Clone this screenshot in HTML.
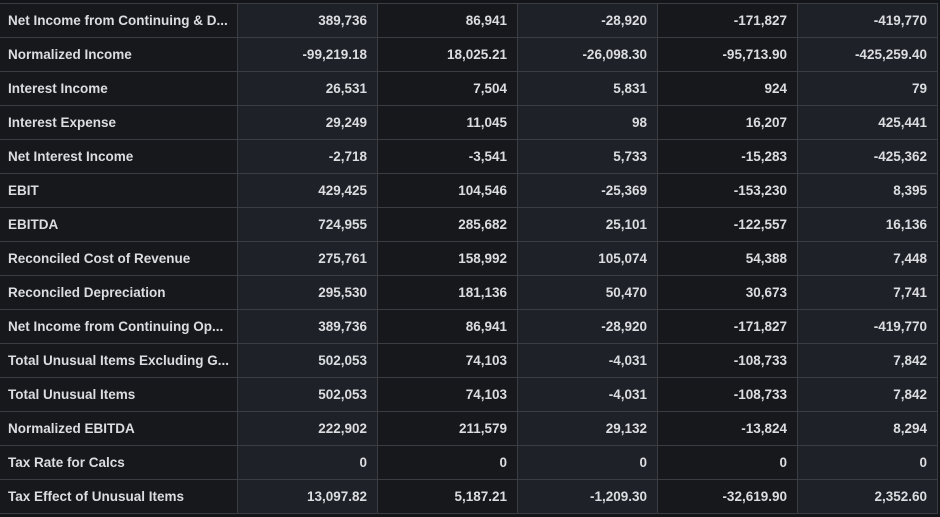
<!DOCTYPE html>
<html><head><style>
body{margin:0;background:#131518;width:940px;height:517px;overflow:hidden;font-family:"Liberation Sans",sans-serif;}
table{position:absolute;left:0;top:3px;border-collapse:collapse;table-layout:fixed;width:938px;}
td{height:33px;border:1px solid #3a3d43;padding:0 10px;font-size:13.5px;font-weight:bold;color:#dcdde0;white-space:nowrap;overflow:hidden;letter-spacing:0;}
td:first-child{border-left:none;text-align:left;padding-left:8px;background:#16181c;width:219px;}
td.a{background:#1e2128;text-align:right;}
td.b{background:#16181c;text-align:right;}
</style></head><body>
<table>
<tr><td>Net Income from Continuing &amp; D...</td><td class="a">389,736</td><td class="b">86,941</td><td class="a">-28,920</td><td class="b">-171,827</td><td class="a">-419,770</td></tr>
<tr><td>Normalized Income</td><td class="a">-99,219.18</td><td class="b">18,025.21</td><td class="a">-26,098.30</td><td class="b">-95,713.90</td><td class="a">-425,259.40</td></tr>
<tr><td>Interest Income</td><td class="a">26,531</td><td class="b">7,504</td><td class="a">5,831</td><td class="b">924</td><td class="a">79</td></tr>
<tr><td>Interest Expense</td><td class="a">29,249</td><td class="b">11,045</td><td class="a">98</td><td class="b">16,207</td><td class="a">425,441</td></tr>
<tr><td>Net Interest Income</td><td class="a">-2,718</td><td class="b">-3,541</td><td class="a">5,733</td><td class="b">-15,283</td><td class="a">-425,362</td></tr>
<tr><td>EBIT</td><td class="a">429,425</td><td class="b">104,546</td><td class="a">-25,369</td><td class="b">-153,230</td><td class="a">8,395</td></tr>
<tr><td>EBITDA</td><td class="a">724,955</td><td class="b">285,682</td><td class="a">25,101</td><td class="b">-122,557</td><td class="a">16,136</td></tr>
<tr><td>Reconciled Cost of Revenue</td><td class="a">275,761</td><td class="b">158,992</td><td class="a">105,074</td><td class="b">54,388</td><td class="a">7,448</td></tr>
<tr><td>Reconciled Depreciation</td><td class="a">295,530</td><td class="b">181,136</td><td class="a">50,470</td><td class="b">30,673</td><td class="a">7,741</td></tr>
<tr><td>Net Income from Continuing Op...</td><td class="a">389,736</td><td class="b">86,941</td><td class="a">-28,920</td><td class="b">-171,827</td><td class="a">-419,770</td></tr>
<tr><td>Total Unusual Items Excluding G...</td><td class="a">502,053</td><td class="b">74,103</td><td class="a">-4,031</td><td class="b">-108,733</td><td class="a">7,842</td></tr>
<tr><td>Total Unusual Items</td><td class="a">502,053</td><td class="b">74,103</td><td class="a">-4,031</td><td class="b">-108,733</td><td class="a">7,842</td></tr>
<tr><td>Normalized EBITDA</td><td class="a">222,902</td><td class="b">211,579</td><td class="a">29,132</td><td class="b">-13,824</td><td class="a">8,294</td></tr>
<tr><td>Tax Rate for Calcs</td><td class="a">0</td><td class="b">0</td><td class="a">0</td><td class="b">0</td><td class="a">0</td></tr>
<tr><td>Tax Effect of Unusual Items</td><td class="a">13,097.82</td><td class="b">5,187.21</td><td class="a">-1,209.30</td><td class="b">-32,619.90</td><td class="a">2,352.60</td></tr>
</table>
</body></html>
